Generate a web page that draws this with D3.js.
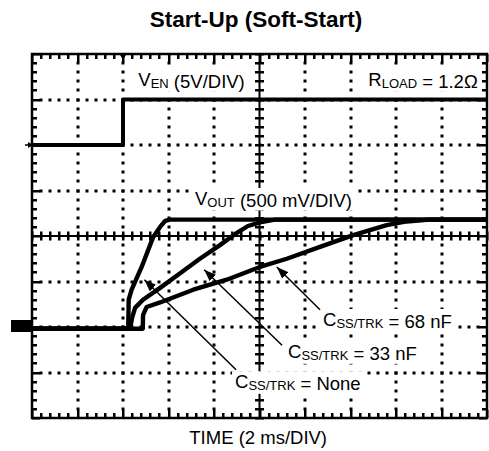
<!DOCTYPE html>
<html><head><meta charset="utf-8">
<script src="https://cdn.jsdelivr.net/npm/d3@7"></script>
<style>body{margin:0;background:#fff} text{font-family:"Liberation Sans",Arial,Helvetica,sans-serif;fill:#000}</style>
</head><body>
<svg id="c" width="489" height="451"></svg>
<script>
// ---- data (time in ms, voltages in V) ----
const xDivisions = [0,1,2,3,4,5,6,7,8,9,10];
const yDivisions = [-4,-3,-2,-1,0,1,2,3,4];
const venTime  = [0, 4.0, 4.0, 20];
const venVolts = [0, 0, 5, 5];
const noneTime  = [0, 4.23, 4.25, 4.38, 4.82, 5.33, 5.63, 5.85, 6.07, 20];
const noneVolts = [-0.02, -0.02, 0.30, 0.41, 0.66, 0.99, 1.10, 1.165, 1.18, 1.18];
const c33Time  = [0, 4.31, 4.40, 4.53, 4.88, 5.63, 6.51, 7.38, 8.26, 8.92, 9.49, 10.02, 10.68, 20];
const c33Volts = [-0.02, -0.02, 0.10, 0.21, 0.30, 0.43, 0.59, 0.75, 0.90, 1.02, 1.11, 1.15, 1.18, 1.18];
const c68Time  = [0, 4.87, 4.88, 5.04, 5.63, 7.09, 8.56, 10.02, 11.20, 12.66, 14.12, 15.59, 16.47, 17.49, 20];
const c68Volts = [-0.02, -0.02, 0.13, 0.22, 0.27, 0.41, 0.52, 0.66, 0.75, 0.88, 1.01, 1.12, 1.16, 1.18, 1.18];
// arrows: [tailTime, tailVolts, tipTime, tipVolts]
const arrowNone = [8.97, -0.47, 4.94, 0.52];
const arrow33   = [10.99, -0.20, 7.57, 0.63];
const arrow68   = [12.66, 0.19, 10.76, 0.66];
const timePerDiv = 2, venPerDiv = 5, voutPerDiv = 0.5;
const venGroundDiv = 2, voutGroundDiv = -2;

// ---- scales ----
const svg = d3.select('#c');
const x = d3.scaleLinear().domain([0, 20]).range([32, 487]);
const yd = d3.scaleLinear().domain([-4, 4]).range([418, 54]);
const yVen = v => yd(venGroundDiv + v / venPerDiv);
const yOut = v => yd(voutGroundDiv + v / voutPerDiv);
const xDiv = d => x(d * timePerDiv);
const L = x(0), R = x(20), T = yd(4), B = yd(-4);
const sub5 = d3.range(0, 51).map(i => i / 5);
const sub5y = d3.range(-20, 21).map(i => i / 5);
const isMajor = d => Math.abs(d - Math.round(d)) < 1e-6;

// ---- dotted grid ----
const dots = [];
xDivisions.filter(d => d > 0 && d < 10 && d !== 5).forEach(d =>
  sub5y.filter(s => s > -4 && s < 4).forEach(s => dots.push([xDiv(d), yd(s)])));
yDivisions.filter(d => d > -4 && d < 4 && d !== 0).forEach(d =>
  sub5.filter(s => s > 0 && s < 10).forEach(s => dots.push([xDiv(s), yd(d)])));
const dotG = svg.append('g');
dots.forEach(d => dotG.append('rect')
  .attr('x', Math.round(d[0]) - 1.5).attr('y', Math.round(d[1]) - 1.5).attr('width', 3).attr('height', 3).attr('fill', '#000'));

// ---- center axes ----
const ax = svg.append('g').attr('stroke', '#000');
ax.append('line').attr('x1', xDiv(5)).attr('x2', xDiv(5)).attr('y1', T).attr('y2', B).attr('stroke-width', 2);
ax.append('line').attr('y1', yd(0)).attr('y2', yd(0)).attr('x1', L).attr('x2', R).attr('stroke-width', 2);

// ---- ticks ----
const tk = svg.append('g').attr('fill', '#000');
function bar(x0, y0, w, h) { tk.append('rect').attr('x', x0).attr('y', y0).attr('width', w).attr('height', h); }
sub5.forEach(d => {
  const len = isMajor(d) ? 8 : 5;
  const px = Math.round(xDiv(d));
  bar(px - 1, T, 2.5, len);
  bar(px - 1, B - len, 2.5, len);
  bar(px - 1, yd(0) - 4.5, 2.5, 9);
});
sub5y.forEach(d => {
  const len = isMajor(d) ? 8 : 5;
  const py = Math.round(yd(d));
  bar(L, py - 1, len, 2.5);
  bar(R - len, py - 1, len, 2.5);
  bar(xDiv(5) - 4.5, py - 1, 9, 2.5);
});

// ---- frame ----
svg.append('rect').attr('x', L).attr('y', T).attr('width', R - L).attr('height', B - T)
  .attr('fill', 'none').attr('stroke', '#000').attr('stroke-width', 2.5);

// ---- labels ----
function label(px, py, parts, box) {
  const grp = svg.append('g');
  const t = grp.append('text').attr('x', px).attr('y', py).attr('font-size', 18.5);
  parts.forEach(([s, sub]) => {
    t.append('tspan').attr('font-size', sub ? 13 : 18.5).attr('dy', sub ? 1.5 : 0).text(s);
    if (sub) t.append('tspan').attr('dy', -1.5).text('');
  });
  if (box) {
    const bb = t.node().getBBox();
    grp.insert('rect', 'text').attr('x', bb.x - 3).attr('y', bb.y).attr('width', bb.width + 6).attr('height', bb.height).attr('fill', '#fff');
  }
  return t;
}
label(138.3, 86.3, [['V'], ['EN', 1], [' (5V/DIV)']], true);
label(368.3, 86.3, [['R'], ['LOAD', 1], [' = 1.2Ω']], true);
label(195, 205, [['V'], ['OUT', 1], [' (500 mV/DIV)']], true);
label(323, 326, [['C'], ['SS/TRK', 1], [' = 68 nF']], true);
label(288, 358.3, [['C'], ['SS/TRK', 1], [' = 33 nF']], true);
label(235, 388.3, [['C'], ['SS/TRK', 1], [' = None']], true);
label(189.3, 444, [['TIME (2 ms/DIV)']], false);
svg.append('text').attr('x', 256).attr('y', 26.7).attr('text-anchor', 'middle')
  .attr('font-size', 22.5).attr('font-weight', 'bold').text('Start-Up (Soft-Start)');

// ---- traces ----
const line = d3.line().x(d => x(d[0])).y(d => d[1]);
function trace(ts, vs, yf, w) {
  svg.append('path').attr('d', line(ts.map((t, i) => [t, yf(vs[i])])))
    .attr('fill', 'none').attr('stroke', '#000').attr('stroke-width', w).attr('stroke-linejoin', 'round');
}
trace(venTime, venVolts, yVen, 4);
trace(c68Time, c68Volts, yOut, 4.4);
trace(c33Time, c33Volts, yOut, 4.4);
trace(noneTime, noneVolts, yOut, 4.4);

// ---- ground / trigger markers ----
svg.append('rect').attr('x', 11).attr('y', yd(voutGroundDiv) - 7).attr('width', L - 11).attr('height', 12).attr('fill', '#000');
svg.append('line').attr('x1', 25).attr('x2', L).attr('y1', yd(venGroundDiv)).attr('y2', yd(venGroundDiv)).attr('stroke', '#000').attr('stroke-width', 1.5);
svg.append('path').attr('d', `M${L - 4},${yd(venGroundDiv) - 3}L${L + 1},${yd(venGroundDiv)}L${L - 4},${yd(venGroundDiv) + 3}Z`).attr('fill', '#000');
const tx = x(venTime[1]);
svg.append('path').attr('d', `M${tx - 3.5},${T}L${tx + 3.5},${T}L${tx},${T + 6}Z`).attr('fill', '#000');

// ---- arrows ----
svg.append('defs').append('marker').attr('id', 'ah').attr('viewBox', '0 0 12 9').attr('refX', 12).attr('refY', 4.5)
  .attr('markerWidth', 12).attr('markerHeight', 9).attr('markerUnits', 'userSpaceOnUse').attr('orient', 'auto')
  .append('path').attr('d', 'M0,0L12,4.5L0,9Z').attr('fill', '#000');
[arrowNone, arrow33, arrow68].forEach(a => {
  svg.append('line').attr('x1', x(a[0])).attr('y1', yOut(a[1])).attr('x2', x(a[2])).attr('y2', yOut(a[3]))
    .attr('stroke', '#000').attr('stroke-width', 1.5).attr('marker-end', 'url(#ah)');
});
</script>
</body></html>
